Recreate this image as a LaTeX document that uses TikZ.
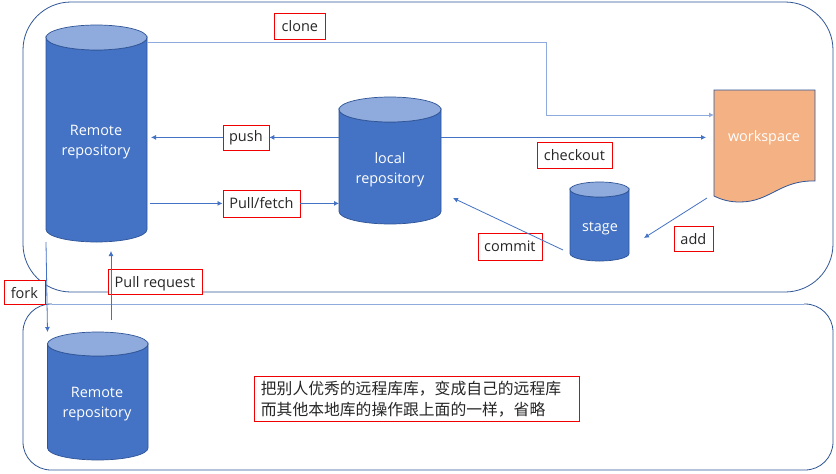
\documentclass[tikz,border=0pt]{standalone}
\usepackage{fontspec}
\setmainfont{Open Sans}
\newfontfamily\cjkfont{Noto Sans CJK SC}
\usetikzlibrary{arrows.meta}
\definecolor{blueA}{HTML}{4472C4}
\definecolor{blueB}{HTML}{8FAADC}
\definecolor{edgeA}{HTML}{2F5597}
\definecolor{orangeA}{HTML}{F4B183}
\definecolor{redbox}{HTML}{F00000}
\newcommand{\cylshape}[6]{% name, x0, x1, ytop, ybot, ry
  \pgfmathsetmacro{\cylrx}{(#3-#2)/2}
  \pgfmathsetmacro{\cylcx}{(#3+#2)/2}
  \pgfmathsetmacro{\cylya}{#4+#6}
  \pgfmathsetmacro{\cylyb}{#5-#6}
  \path[draw=edgeA,line width=0.7pt,fill=blueA] (#2,\cylya) -- (#2,\cylyb)
     arc[start angle=180,end angle=360,x radius=\cylrx pt,y radius=#6 pt]
     -- (#3,\cylya) arc[start angle=0,end angle=-180,x radius=\cylrx pt,y radius=#6 pt] -- cycle;
  \path[draw=edgeA,line width=0.7pt,fill=blueB] (\cylcx,\cylya) ellipse[x radius=\cylrx pt,y radius=#6 pt];
  \node[anchor=north west,inner sep=0pt,outer sep=0pt,minimum width=#3 pt-#2 pt,minimum height=#5 pt-#4 pt] (#1) at (#2,#4) {};
}
\tikzset{
  frame/.style={draw=edgeA,line width=0.8pt,rounded corners=#1},
  tag/.style={draw=redbox,line width=0.8pt,fill=white,inner sep=0pt,font=\fontsize{14.5}{18}\selectfont,text=black!85},
  inner label/.style={text=white,align=center,inner sep=0pt,font=\fontsize{14.4}{20}\selectfont},
  link/.style={draw=blueA,line width=0.8pt,-{Latex[length=5pt,width=5pt]}},
  light link/.style={draw=blueB,line width=1pt,-{Latex[length=5pt,width=5pt]}},
  note/.style={draw=redbox,line width=0.8pt,fill=white,align=left,inner sep=0pt,anchor=north west,
    text=black!85,font=\cjkfont\fontsize{15.8}{20.5}\selectfont},
}
\newcommand{\tagbox}[6]{% name, x0, x1, y0, y1, text
  \node[tag,anchor=north west,minimum width=#3 pt-#2 pt,minimum height=#5 pt-#4 pt] (#1) at (#2,#4) {#6};
}
\begin{document}
\begin{tikzpicture}[x=1pt,y=-1pt]
\useasboundingbox (0,0) rectangle (836,474);
\fill[white] (0,0) rectangle (836,474);
% frames
\draw[frame=48pt] (23,2) rectangle (833,292);
\draw[frame=28pt] (23,304) rectangle (833,470);
\draw[draw=white,line width=1.4pt] (52,304) -- (804,304);
\draw[draw=blueB,line width=0.8pt] (52,304) -- (804,304);
% cylinders
\cylshape{remote}{46}{147}{25}{242}{12.5}
\cylshape{local}{339}{441}{97}{224}{12.5}
\cylshape{stage}{570}{629}{182}{261}{7.5}
\cylshape{fork repo}{47.5}{148}{332}{460}{12}
\node[inner label] (remote text) at (96,142) {Remote\\repository};
\node[inner label] (local text) at (390,170) {local\\repository};
\node[inner label] (stage text) at (600,228) {stage};
\node[inner label] (fork text) at (97,404) {Remote\\repository};
% workspace
\path[draw=edgeA,line width=0.8pt,fill=orangeA] (714,90) -- (815,90) -- (815,181)
  .. controls (780,180) and (770,202) .. (740,202)
  .. controls (730,202) and (722,200) .. (714,196) -- cycle;
\node[inner sep=0pt,outer sep=0pt,minimum width=101pt,minimum height=112pt,anchor=north west] (workspace) at (714,90) {};
\node[inner label] (workspace text) at (764,138) {workspace};
% labels
\tagbox{clone}{274}{325}{12.5}{38.5}{clone}
\tagbox{push}{222.5}{268.5}{124.5}{149.5}{push}
\tagbox{pull}{222.5}{299.5}{189.5}{216.5}{Pull/fetch}
\tagbox{checkout}{536.5}{611.5}{141.5}{168}{checkout}
\tagbox{commit}{477.5}{541.5}{232.5}{259.5}{commit}
\tagbox{add}{673.5}{712.5}{225.5}{251}{add}
\tagbox{fork}{3.5}{44.5}{279.5}{304}{\rule{0pt}{13.5pt}fork}
\tagbox{pr}{107.5}{201.5}{268.5}{294}{\rule{0pt}{14.5pt}Pull request}
\node[note,minimum width=325.5pt,minimum height=45pt,text width=325.5pt-14pt,inner xsep=7pt] (note) at (253.5,376)
  {把别人优秀的远程库库，变成自己的远程库\\而其他本地库的操作跟上面的一样，省略};
% anchor points
\coordinate (clone a) at (147,42);
\coordinate (clone b) at (546,42);
\coordinate (clone c) at (546,115);
\coordinate (commit a) at (563,250);
\coordinate (commit b) at (453,198);
\coordinate (add a) at (707,198);
\coordinate (add b) at (644,238);
\coordinate (pr a) at (111,320);
\coordinate (pr b) at (111,251);
\coordinate (fork a) at (46,242);
% connectors
\draw[light link] (clone a) -- (clone b) -- (clone c) -- (workspace.west |- clone c);
\draw[link] (local.west |- push.east) -- (push.east);
\draw[link] (push.west) -- ([xshift=4pt]remote.east |- push.west);
\draw[link] ([xshift=3pt]remote.east |- pull.west) -- (pull.west);
\draw[link] (pull.east) -- (local.west |- pull.east);
\draw[link] (local.east |- push.east) -- ([xshift=-8pt]workspace.west |- push.east);
\draw[link] (commit a) -- (commit b);
\draw[link] (add a) -- (add b);
\draw[link] (fork a) -- (fork repo.north west);
\draw[link] (pr a) -- (pr b);
\end{tikzpicture}
\end{document}
